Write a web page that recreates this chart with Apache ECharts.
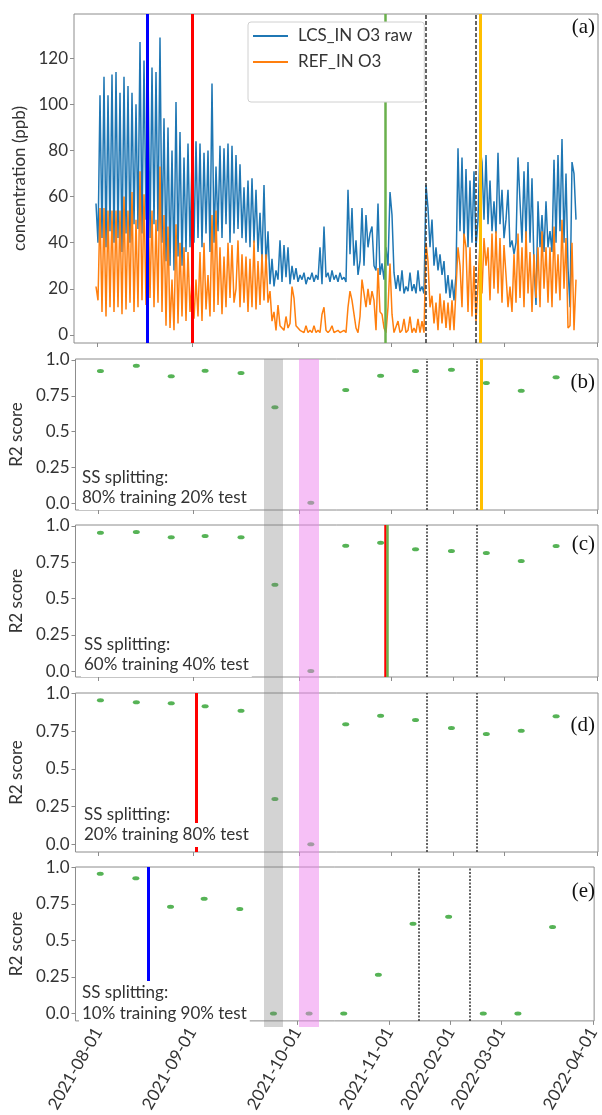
<!DOCTYPE html>
<html><head><meta charset="utf-8">
<script src="https://cdn.jsdelivr.net/npm/echarts@6/dist/echarts.min.js"></script>
<style>html,body{margin:0;padding:0;background:#fff}#c{width:602px;height:1115px}</style>
</head><body><div id="c"></div>
<script>
// x axis = sample index of the (gap-compressed) record
const tickPos = [0.5, 48, 101, 147.5, 178.5, 204, 250.5];
const tickLabels = ['2021-08-01','2021-09-01','2021-10-01','2021-11-01','2022-02-01','2022-03-01','2022-04-01'];
const concTicks = [0, 20, 40, 60, 80, 100, 120];
const r2Ticks = [0, 0.25, 0.5, 0.75, 1.0];

const lcsRaw = [
57,40,104,42,112,38,104,45,113,40,
114,42,105,36,112,44,108,40,105,48,
100,46,127,44,119,50,117,42,116,48,
114,45,129,40,94,32,90,30,80,28,
101,34,88,30,77,36,83,38,76,40,
84,42,83,38,79,44,80,36,109,40,
73,45,82,42,81,48,83,40,82,44,
78,46,74,42,64,40,67,38,68,40,
63,36,53,32,65,30,45,22,33,21,
28,24,41,23,39,25,38,22,30,24,
29,23,26,24,27,22,25,24,27,23,
26,24,38,22,47,25,27,23,28,24,
26,23,27,24,25,23,63,35,55,30,
41,26,32,55,30,52,38,44,47,30,
28,57,26,31,24,38,30,62,52,27,
20,26,19,28,18,21,19,27,19,22,
18,28,19,21,18,65,55,38,50,30,
38,28,35,26,32,18,26,16,24,15,
26,81,45,77,40,72,38,67,40,71,
38,50,81,75,50,78,48,67,45,58,
44,79,48,63,42,50,63,38,41,35,
40,77,58,40,71,42,75,40,68,30,
13,58,38,52,36,58,38,45,36,76,
40,78,45,85,40,70,29,12,75,70,50];

const refO3 = [
21,15,55,10,55,8,54,12,54,10,
54,12,54,9,60,11,54,14,62,10,
50,12,71,15,61,13,61,16,54,12,
50,14,73,10,52,4,47,3,24,2,
48,5,40,8,38,6,36,10,24,7,
24,8,36,6,40,11,26,8,52,10,
54,13,38,9,34,12,40,16,39,14,
20,41,12,35,14,34,10,33,12,41,
11,32,13,35,15,35,14,19,6,10,
2,13,4,3,2,8,3,5,21,16,
4,3,2,2,1,4,1,2,1,4,
1,2,1,9,12,2,1,2,4,1,
1,2,1,1,2,1,12,19,15,9,
3,1,8,24,18,12,20,13,19,15,
2,29,10,9,3,1,12,31,9,1,
1,6,1,2,7,1,2,8,1,3,
1,7,1,6,1,40,32,12,17,5,
14,2,18,5,15,3,14,2,15,2,
20,38,30,12,44,38,10,38,8,30,
6,22,40,18,42,30,38,15,44,20,
45,18,42,14,39,26,12,21,10,35,
14,44,16,38,12,45,18,36,10,35,
16,38,12,45,20,38,14,38,12,47,
18,35,15,50,20,42,3,4,40,2,24];

// evaluation windows (centre sample index)
const windowPos = [1.5, 19.5, 37, 54, 72, 89, 107, 124.5, 142, 159.5, 177.5, 195, 212.5, 230];
const r2_80_20 = [0.923, 0.960, 0.886, 0.925, 0.909, 0.670, 0.004, 0.790, 0.890, 0.923, 0.932, 0.840, 0.786, 0.879];
const r2_60_40 = [0.954, 0.959, 0.922, 0.931, 0.922, 0.595, 0.000, 0.864, 0.885, 0.839, 0.828, 0.814, 0.759, 0.862];
const r2_20_80 = [0.954, 0.940, 0.934, 0.914, 0.885, 0.300, 0.000, 0.795, 0.852, 0.823, 0.770, 0.730, 0.752, 0.848];
const r2_10_90 = [0.956, 0.925, 0.730, 0.785, 0.714, 0.000, 0.000, 0.000, 0.265, 0.614, 0.662, 0.000, 0.000, 0.592];

const splitLabels = ['80% training 20% test', '60% training 40% test', '20% training 80% test', '10% training 90% test'];
const panelTags = ['(a)', '(b)', '(c)', '(d)', '(e)'];

// event markers (sample index)
const blueEvent = 25.8, redEvent = 48.2, redEventD = 49.5, greenEvent = 144.5, goldEvent = 192.2;
const dashEvents = [164.9, 190.1];
const dashEventsE = [162.5, 188];
const grayBand = [84, 93.5];
const pinkBand = [101.5, 111.5];

const FONT = 'Lato';
const TXT = '#333';
const grids = [
  {left: 74, top: 14, width: 524, height: 329},
  {left: 74, top: 359, width: 524, height: 151},
  {left: 74, top: 525, width: 524, height: 152},
  {left: 74, top: 693, width: 524, height: 159},
  {left: 74, top: 867, width: 524, height: 160}
];
const yRanges = [[-3.5, 139.2], [-0.047, 1.007], [-0.041, 1.007], [-0.051, 1.002], [-0.051, 1.002]];

const option = {
  animation: false,
  backgroundColor: '#fff',
  grid: grids.map(g => Object.assign({show: true, borderColor: '#8c8c8c', borderWidth: 1, backgroundColor: 'transparent'}, g))
    .concat([{left: 74, top: 359, width: 524, height: 668, show: false}]),
  xAxis: grids.map((g, i) => ({
    type: 'value', gridIndex: i, min: -11, max: 251, position: 'bottom',
    splitLine: {show: false}, axisLine: {show: false, onZero: false},
    axisTick: {show: true, customValues: tickPos, length: 4, lineStyle: {color: '#8c8c8c'}},
    axisLabel: {show: i === 4, customValues: tickPos, formatter: v => tickLabels[tickPos.indexOf(v)],
      rotate: 60, margin: 8, fontFamily: FONT, fontSize: 17, color: TXT}
  })).concat([{type: 'value', gridIndex: 5, min: -11, max: 251, show: false}]),
  yAxis: grids.map((g, i) => ({
    type: 'value', gridIndex: i, min: yRanges[i][0], max: yRanges[i][1], position: 'left',
    splitLine: {show: false}, axisLine: {show: false, onZero: false},
    axisTick: {show: true, customValues: i === 0 ? concTicks : r2Ticks, length: 4, lineStyle: {color: '#8c8c8c'}},
    axisLabel: {customValues: i === 0 ? concTicks : r2Ticks, margin: 6, fontFamily: FONT, fontSize: 17, color: TXT,
      formatter: v => i === 0 ? String(v) : (v === 0 ? '0.0' : v === 1 ? '1.0' : String(v))},
    name: i === 0 ? 'concentration (ppb)' : 'R2 score', nameLocation: 'middle', nameGap: 42,
    nameTextStyle: {fontFamily: FONT, fontSize: 17, color: TXT}
  })).concat([{type: 'value', gridIndex: 5, min: 0, max: 1, show: false}]),
  legend: {
    data: ['LCS_IN O3 raw', 'REF_IN O3'], orient: 'vertical', left: 248, top: 22,
    padding: [4, 12, 30, 5], itemGap: 6, itemWidth: 35, itemHeight: 20, icon: 'path://M0 9 L35 9 L35 11 L0 11 Z',
    textStyle: {fontFamily: FONT, fontSize: 17, color: TXT, lineHeight: 20, padding: [0, 0, 0, 5]},
    backgroundColor: '#fff', borderColor: '#d0d0d0', borderWidth: 1, borderRadius: 3, z: 7
  },
  title: [],
  series: []
};

panelTags.forEach((t, i) => {
  const centers = [27, 382, 544, 725, 891];
  option.title.push({text: t, right: 7, top: centers[i] - 12, padding: 0,
    textStyle: {fontFamily: 'Liberation Serif', fontSize: 21, fontWeight: 'normal', color: '#111', lineHeight: 24}});
});
const txtCenters = [[478, 498], [645, 665], [815, 835], [993, 1014]];
const txtLeft = [82, 84, 84, 82];
splitLabels.forEach((s, i) => {
  [['SS splitting:', txtCenters[i][0]], [s, txtCenters[i][1]]].forEach(([t, c]) => {
    option.title.push({text: t, left: txtLeft[i] - 3, top: c - 12, padding: [2, 3], backgroundColor: '#fff', z: 8,
      textStyle: {fontFamily: FONT, fontSize: 17, fontWeight: 'normal', color: TXT, lineHeight: 20}});
  });
});

function vline(x, color, width, type) {
  return {xAxis: x, lineStyle: {color: color, width: width, type: type || 'solid'}};
}
function markLines(list) {
  return {silent: true, symbol: ['none', 'none'], label: {show: false}, animation: false, data: list};
}

option.series.push({
  name: 'LCS_IN O3 raw', type: 'line', xAxisIndex: 0, yAxisIndex: 0, symbol: 'none',
  lineStyle: {color: '#1f77b4', width: 1.5}, itemStyle: {color: '#1f77b4'},
  data: lcsRaw.map((v, i) => [i, v]), z: 2
});
option.series.push({
  name: 'REF_IN O3', type: 'line', xAxisIndex: 0, yAxisIndex: 0, symbol: 'none',
  lineStyle: {color: '#ff7f0e', width: 1.5}, itemStyle: {color: '#ff7f0e'},
  data: refO3.map((v, i) => [i, v]), z: 3,
  markLine: markLines([
    vline(blueEvent, '#0000ff', 3), vline(redEvent, '#ff0000', 3), vline(greenEvent, '#6ab04c', 2.5),
    vline(dashEvents[0], '#333', 1.5, [4, 2]), vline(dashEvents[1], '#333', 1.5, [4, 2]),
    vline(goldEvent, '#ffbf00', 3)
  ])
});

const r2Sets = [r2_80_20, r2_60_40, r2_20_80, r2_10_90];
const panelLines = [
  [vline(dashEvents[0], '#333', 1.5, [2, 1.5]), vline(dashEvents[1], '#333', 1.5, [2, 1.5]), vline(goldEvent + 0.3, '#ffbf00', 3)],
  [vline(greenEvent - 0.2, '#ff0000', 2.5), vline(greenEvent + 0.8, '#6ab04c', 2.5), vline(dashEvents[0], '#333', 1.5, [2, 1.5]), vline(dashEvents[1], '#333', 1.5, [2, 1.5])],
  [vline(redEventD, '#ff0000', 3), vline(dashEvents[0], '#333', 1.5, [2, 1.5]), vline(dashEvents[1], '#333', 1.5, [2, 1.5])],
  [vline(blueEvent, '#0000ff', 3), vline(dashEventsE[0], '#333', 1.5, [2, 1.5]), vline(dashEventsE[1], '#333', 1.5, [2, 1.5])]
];
r2Sets.forEach((set, k) => {
  option.series.push({
    type: 'scatter', xAxisIndex: k + 1, yAxisIndex: k + 1,
    symbol: 'path://M0 5 A10 5 0 1 0 20 5 A10 5 0 1 0 0 5 Z', symbolSize: [7, 4],
    itemStyle: {color: '#2ca02c'}, z: 2,
    data: windowPos.map((x, i) => [x, set[i]]),
    markLine: markLines(panelLines[k])
  });
});
option.series.push({
  type: 'scatter', xAxisIndex: 5, yAxisIndex: 5, data: [], silent: true,
  markArea: {silent: true, z: 4, data: [
    [{xAxis: grayBand[0], itemStyle: {color: 'rgba(128,128,128,0.35)'}}, {xAxis: grayBand[1]}],
    [{xAxis: pinkBand[0], itemStyle: {color: 'rgba(238,130,238,0.5)'}}, {xAxis: pinkBand[1]}]
  ]}
});

const chart = echarts.init(document.getElementById('c'), null, {renderer: 'canvas'});
chart.setOption(option);
</script></body></html>
